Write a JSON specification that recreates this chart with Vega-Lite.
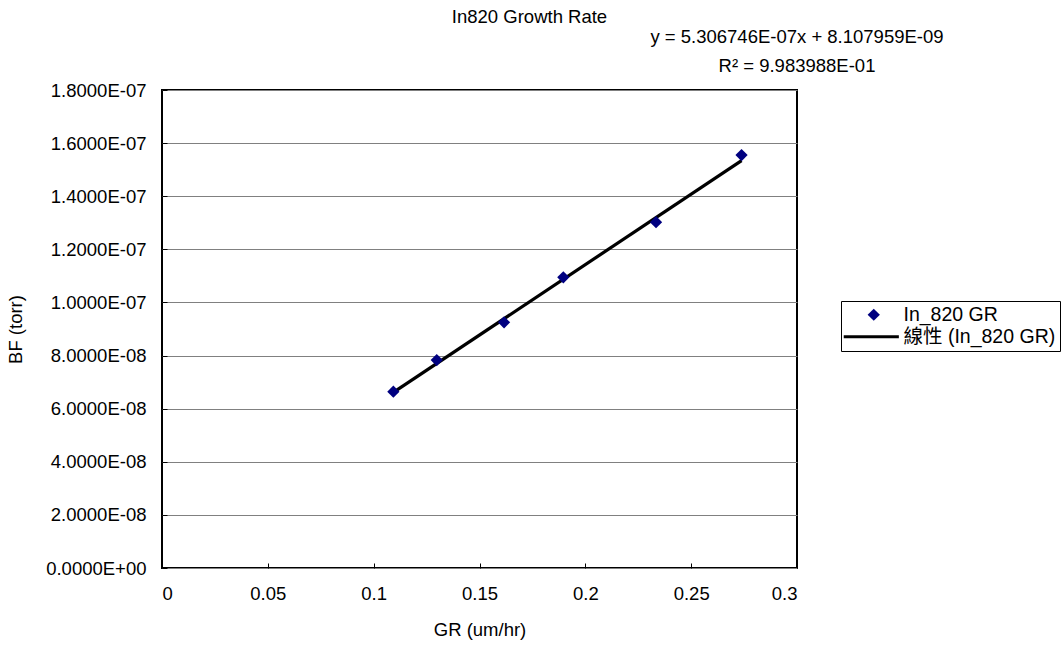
{
  "$schema": "https://vega.github.io/schema/vega-lite/v6.json",
  "width": 635,
  "height": 478,
  "autosize": "none",
  "padding": {"left": 162, "top": 90, "right": 267, "bottom": 83},
  "background": "white",
  "datasets": {
    "points": [
      {"gr": 0.1093, "bf": 6.64e-8, "series": "In_820 GR"},
      {"gr": 0.1298, "bf": 7.83e-8, "series": "In_820 GR"},
      {"gr": 0.1616, "bf": 9.25e-8, "series": "In_820 GR"},
      {"gr": 0.1896, "bf": 1.0946e-7, "series": "In_820 GR"},
      {"gr": 0.2334, "bf": 1.302e-7, "series": "In_820 GR"},
      {"gr": 0.2738, "bf": 1.555e-7, "series": "In_820 GR"}
    ],
    "trend": [
      {"gr": 0.1093, "bf": 6.6111e-8, "series": "線性 (In_820 GR)"},
      {"gr": 0.2738, "bf": 1.534067e-7, "series": "線性 (In_820 GR)"}
    ],
    "note": [{"n": 1}]
  },
  "title": {
    "text": "In820 Growth Rate",
    "font": "Liberation Sans",
    "fontSize": 18.5,
    "fontWeight": "normal",
    "color": "black",
    "anchor": "middle",
    "baseline": "middle",
    "dx": 50,
    "offset": -8
  },
  "config": {
    "view": {"stroke": "black", "strokeWidth": 2},
    "font": "Liberation Sans",
    "axis": {
      "labelFont": "Liberation Sans",
      "titleFont": "Liberation Sans",
      "labelFontSize": 18.5,
      "titleFontSize": 18.5,
      "titleFontWeight": "normal",
      "labelColor": "black",
      "titleColor": "black",
      "domain": false,
      "tickColor": "black",
      "tickSize": -5,
      "tickWidth": 1
    }
  },
  "layer": [
    {
      "data": {"name": "trend"},
      "mark": {"type": "line", "color": "black", "strokeWidth": 3.2},
      "encoding": {
        "x": {"field": "gr", "type": "quantitative"},
        "y": {"field": "bf", "type": "quantitative"}
      }
    },
    {
      "data": {"name": "points"},
      "mark": {"type": "point", "filled": true, "opacity": 1, "size": 150},
      "encoding": {
        "x": {
          "field": "gr",
          "type": "quantitative",
          "scale": {"domain": [0, 0.3], "nice": false, "zero": false},
          "axis": {
            "title": "GR (um/hr)",
            "values": [0, 0.05, 0.1, 0.15, 0.2, 0.25, 0.3],
            "format": "~g",
            "grid": false,
            "labelPadding": 21,
            "titlePadding": 18
          }
        },
        "y": {
          "field": "bf",
          "type": "quantitative",
          "scale": {"domain": [0, 1.8e-7], "nice": false, "zero": false},
          "axis": {
            "title": "BF (torr)",
            "values": [0, 2e-8, 4e-8, 6e-8, 8e-8, 1e-7, 1.2e-7, 1.4e-7, 1.6e-7, 1.8e-7],
            "labelExpr": "datum.value == 0 ? '0.0000E+00' : (datum.value >= 9.5e-8 ? format(datum.value * 1e7, '.4f') + 'E-07' : format(datum.value * 1e8, '.4f') + 'E-08')",
            "grid": true,
            "gridColor": "#808080",
            "gridWidth": 1,
            "labelPadding": 21,
            "titlePadding": 20
          }
        },
        "color": {
          "field": "series",
          "type": "nominal",
          "scale": {"domain": ["In_820 GR", "線性 (In_820 GR)"], "range": ["#000080", "#000000"]},
          "legend": {
            "title": null,
            "orient": "none",
            "legendX": 679,
            "legendY": 211,
            "labelFont": "Liberation Sans, Noto Sans CJK TC",
            "labelFontSize": 19.5,
            "labelColor": "black",
            "symbolSize": 150,
            "symbolStrokeWidth": 0,
            "symbolOffset": 19,
            "labelOffset": 20,
            "rowPadding": 1,
            "strokeColor": "black",
            "padding": 4
          }
        },
        "shape": {
          "field": "series",
          "type": "nominal",
          "scale": {"domain": ["In_820 GR", "線性 (In_820 GR)"], "range": ["diamond", "M-4.9,-0.25H4.1V0.25H-4.9Z"]},
          "legend": {
            "title": null,
            "orient": "none",
            "legendX": 679,
            "legendY": 211,
            "labelFont": "Liberation Sans, Noto Sans CJK TC",
            "labelFontSize": 19.5,
            "labelColor": "black",
            "symbolSize": 150,
            "symbolStrokeWidth": 0,
            "symbolOffset": 19,
            "labelOffset": 20,
            "rowPadding": 1,
            "strokeColor": "black",
            "padding": 4
          }
        }
      }
    },
    {
      "data": {"name": "note"},
      "mark": {"type": "text", "font": "Liberation Sans", "fontSize": 18.5, "color": "black", "align": "center", "baseline": "middle"},
      "encoding": {
        "x": {"datum": 0.3, "type": "quantitative"},
        "y": {"datum": 2.0e-7, "type": "quantitative"},
        "text": {"value": "y = 5.306746E-07x + 8.107959E-09"}
      }
    },
    {
      "data": {"name": "note"},
      "mark": {"type": "text", "font": "Liberation Sans", "fontSize": 18.5, "color": "black", "align": "center", "baseline": "middle"},
      "encoding": {
        "x": {"datum": 0.3, "type": "quantitative"},
        "y": {"datum": 1.89e-7, "type": "quantitative"},
        "text": {"value": "R² = 9.983988E-01"}
      }
    }
  ]
}
